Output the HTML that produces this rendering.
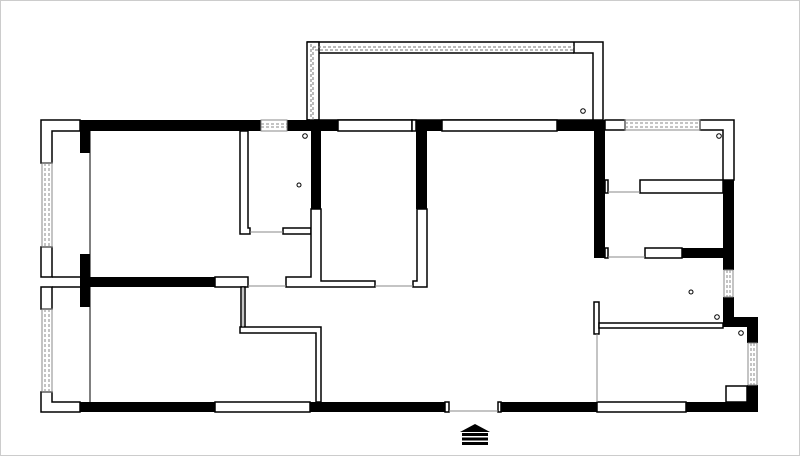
<!DOCTYPE html>
<html><head><meta charset="utf-8"><style>html,body{margin:0;padding:0;background:#fff}svg{display:block}</style></head>
<body>
<svg width="800" height="456" viewBox="0 0 800 456" xmlns="http://www.w3.org/2000/svg">
<rect x="0.5" y="0.5" width="799" height="455" fill="#fff" stroke="#ccc"/>
<g stroke="#000" stroke-width="1.5" fill="#fff">
<polygon points="307,42 603,42 603,120 593,120 593,53 574,53 574,42"/>
<rect x="307" y="42" width="12" height="78"/>
<line x1="319" y1="53" x2="574" y2="53"/>
<line x1="307" y1="120" x2="593" y2="120"/>
</g>
<g stroke="#777" stroke-width="1" stroke-dasharray="3,2" fill="none">
<line x1="313" y1="47" x2="574" y2="47"/><line x1="313" y1="47" x2="313" y2="120"/>
<line x1="311" y1="44" x2="311" y2="120"/><line x1="315" y1="50" x2="574" y2="50"/>
</g>
<g fill="#000">
<rect x="80" y="120" width="181" height="11"/>
<rect x="287" y="120" width="51" height="11"/>
<rect x="416" y="120" width="26" height="11"/>
<rect x="557" y="120" width="48" height="11"/>
<rect x="594" y="120" width="11" height="138"/>
<rect x="80" y="131" width="10" height="22"/>
<rect x="80" y="254" width="10" height="53"/>
<rect x="80" y="277" width="135" height="10"/>
<rect x="311" y="120" width="10" height="89"/>
<rect x="416" y="120" width="11" height="89"/>
<rect x="80" y="402" width="135" height="10"/>
<rect x="310" y="402" width="135" height="10"/>
<rect x="501" y="402" width="96" height="10"/>
<rect x="686" y="402" width="72" height="10"/>
<rect x="723" y="180" width="11" height="90"/>
<rect x="682" y="248" width="41" height="10"/>
<rect x="723" y="297" width="11" height="30"/>
<rect x="723" y="317" width="35" height="10"/>
<rect x="747" y="317" width="11" height="26"/>
<rect x="747" y="385" width="11" height="27"/>
</g>
<g stroke="#000" stroke-width="1.5" fill="#fff">
<polygon points="41,120 80,120 80,131 52,131 52,163 41,163"/>
<rect x="41" y="247" width="11" height="30"/>
<rect x="41" y="287" width="11" height="22"/>
<polygon points="41,392 52,392 52,402 80,402 80,412 41,412"/>
<line x1="52" y1="277" x2="80" y2="277"/><line x1="52" y1="287" x2="80" y2="287"/>
<rect x="215" y="277" width="33" height="10"/>
<rect x="215" y="402" width="95" height="10"/>
<rect x="597" y="402" width="89" height="10"/>
<rect x="338" y="120" width="74" height="11"/>
<rect x="412" y="120" width="4" height="11"/>
<rect x="442" y="120" width="115" height="11"/>
<polygon points="240,131 248,131 248,228 250,228 250,234 240,234"/>
<rect x="283" y="228" width="28" height="6"/>
<polygon points="311,209 321,209 321,281 375,281 375,287 286,287 286,277 311,277"/>
<polygon points="417,209 427,209 427,287 413,287 413,281 417,281"/>
<rect x="241" y="287" width="4" height="40"/>
<polygon points="240,327 321,327 321,402 316,402 316,333 240,333"/>
<rect x="605" y="120" width="20" height="10"/>
<polygon points="700,120 734,120 734,180 723,180 723,130 700,130"/>
<rect x="605" y="180" width="3" height="13"/>
<rect x="640" y="180" width="83" height="13"/>
<rect x="605" y="248" width="3" height="10"/>
<rect x="645" y="248" width="37" height="10"/>
<rect x="594" y="302" width="5" height="32"/>
<rect x="599" y="323" width="124" height="5"/>
<rect x="726" y="386" width="21" height="16"/>
<rect x="445" y="402" width="4" height="10"/>
<rect x="498" y="402" width="3" height="10"/>
</g>
<line x1="90" y1="131" x2="90" y2="402" stroke="#000" stroke-width="1"/>
<g stroke="#888" stroke-width="1" fill="none">
<line x1="250" y1="232" x2="283" y2="232"/>
<line x1="248" y1="286" x2="286" y2="286"/>
<line x1="375" y1="286" x2="413" y2="286"/>
<line x1="449" y1="411" x2="498" y2="411"/>
<line x1="608" y1="192" x2="640" y2="192"/>
<line x1="608" y1="257" x2="645" y2="257"/>
<line x1="597" y1="334" x2="597" y2="402"/>
<line x1="243" y1="287" x2="243" y2="327"/>
<rect x="42" y="163" width="10" height="84"/>
<rect x="42" y="309" width="10" height="83"/>
<rect x="261" y="120" width="26" height="11"/>
<rect x="625" y="120" width="75" height="10"/>
<rect x="724" y="270" width="9" height="27"/>
<rect x="748" y="343" width="9" height="42"/>
</g>
<g stroke="#888" stroke-width="1" stroke-dasharray="3,2" fill="none">
<line x1="45" y1="163" x2="45" y2="247"/><line x1="49" y1="163" x2="49" y2="247"/>
<line x1="45" y1="309" x2="45" y2="392"/><line x1="49" y1="309" x2="49" y2="392"/>
<line x1="261" y1="124" x2="287" y2="124"/><line x1="261" y1="127" x2="287" y2="127"/>
<line x1="625" y1="123" x2="700" y2="123"/><line x1="625" y1="127" x2="700" y2="127"/>
<line x1="727" y1="270" x2="727" y2="297"/><line x1="730" y1="270" x2="730" y2="297"/>
<line x1="751" y1="343" x2="751" y2="385"/><line x1="754" y1="343" x2="754" y2="385"/>
</g>
<g stroke="#000" stroke-width="1" fill="none">
<circle cx="299" cy="185" r="2"/><circle cx="305" cy="136" r="2.3"/>
<circle cx="583" cy="111" r="2.3"/><circle cx="719" cy="136" r="2.3"/>
<circle cx="691" cy="292" r="2"/><circle cx="717" cy="317" r="2.3"/>
<circle cx="741" cy="333" r="2.3"/>
</g>
<g fill="#000">
<polygon points="460,432 475,424 490,432"/>
<rect x="462" y="433" width="26" height="3"/>
<rect x="462" y="437.5" width="26" height="3"/>
<rect x="462" y="442" width="26" height="3"/>
</g>
</svg>
</body></html>
